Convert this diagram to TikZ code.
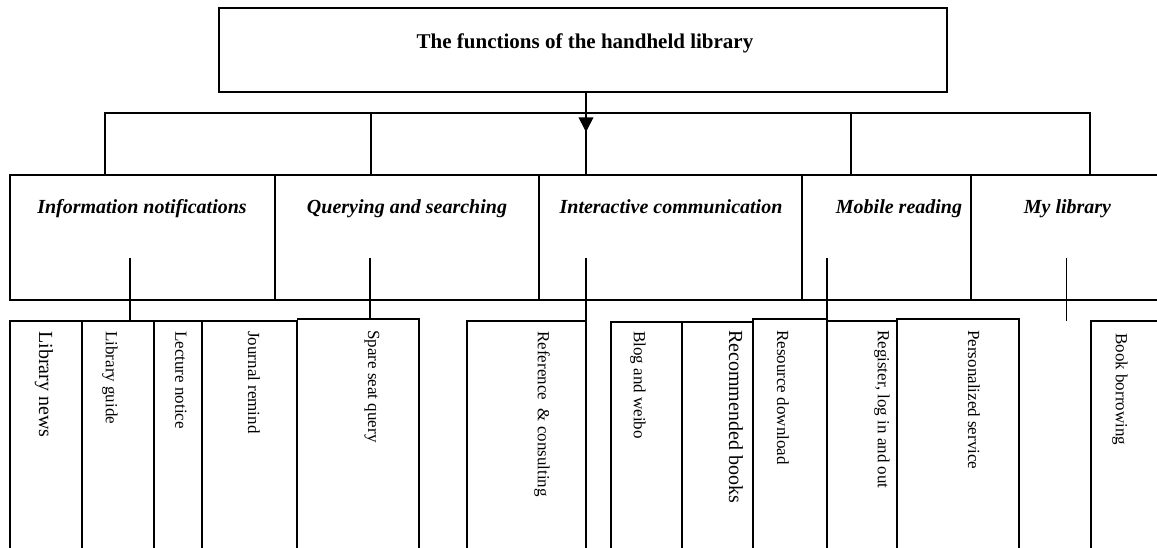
\documentclass[tikz,border=0pt]{standalone}
\usepackage{fontspec}
\setmainfont{Liberation Serif}
\usetikzlibrary{fit,arrows.meta}
\begin{document}
\begin{tikzpicture}[x=0.75pt,y=-0.75pt,
  box/.style={draw, line width=1.3pt, inner sep=0pt},
  conn/.style={line width=1.3pt},
  head/.style={font=\fontsize{15.75}{18}\selectfont\bfseries, inner sep=0pt, anchor=base},
  cat/.style={font=\fontsize{15}{18}\selectfont\bfseries\itshape, inner sep=0pt, anchor=base},
  leaf/.style={font=\fontsize{12.75}{15}\selectfont, inner sep=0pt, rotate=-90, anchor=west},
  bigleaf/.style={leaf, font=\fontsize{15}{18}\selectfont}]
\useasboundingbox (0,0) rectangle (1157,548);
\fill[white] (0,0) rectangle (1157,548);
\clip (0,0) rectangle (1157,548);

% top
\node[box, fit={(219,8)(947,92)}] (top) {};
\node[head] (top-t) at (585,48.5) {The functions of the handheld library};

% level 2
\node[box, fit={(10,175)(275,300)}] (info) {};
\node[box, fit={(275,175)(539,300)}] (query) {};
\node[box, fit={(539,175)(802,300)}] (inter) {};
\node[box, fit={(802,175)(971,300)}] (mobile) {};
\node[box, fit={(971,175)(1175,300)}] (mylib) {};
\node[cat] (info-t) at (142,214) {Information notifications};
\node[cat] (query-t) at (407,214) {Querying and searching};
\node[cat] (inter-t) at (671,214) {Interactive communication};
\node[cat] (mobile-t) at (899,214) {Mobile reading};
\node[cat] (mylib-t) at (1067.5,214) {My library};

% level 3
\node[box, fit={(10,321)(82,575)}] (ln) {};
\node[box, fit={(82,321)(154,575)}] (lg) {};
\node[box, fit={(154,321)(202,575)}] (lec) {};
\node[box, fit={(202,321)(297,575)}] (jr) {};
\node[box, fit={(297.5,319)(419,575)}] (ssq) {};
\node[box, fit={(467,321)(586,575)}] (rc) {};
\node[box, fit={(611,322)(682,575)}] (bw) {};
\node[box, fit={(682,322)(753,575)}] (rb) {};
\node[box, fit={(753,319)(827,575)}] (rd) {};
\node[box, fit={(827,321)(897,575)}] (reg) {};
\node[box, fit={(897,319)(1019,575)}] (ps) {};
\node[box, fit={(1091,321)(1180,575)}] (bb) {};

\node[bigleaf] (ln-t) at (44,331) {Library news};
\node[leaf] (lg-t) at (110,331) {Library guide};
\node[leaf] (lec-t) at (181,331) {Lecture notice};
\node[leaf] (jr-t) at (254,331) {Journal remind};
\node[leaf] (ssq-t) at (372,330) {Spare seat query};
\node[leaf] (rc-t) at (542,331) {Reference \ \& consulting};
\node[leaf] (bw-t) at (638,331) {Blog and weibo};
\node[bigleaf] (rb-t) at (736,330) {Recommended books};
\node[leaf] (rd-t) at (783,330) {Resource download};
\node[leaf] (reg-t) at (882,330) {Register, log in and out};
\node[leaf] (ps-t) at (974,330) {Personalized service};
\node[leaf] (bb-t) at (1120,333) {Book borrowing};

% bus from the top box
\coordinate (b1) at (105,113);
\coordinate (b2) at (371,113);
\coordinate (b3) at (586,113);
\coordinate (b4) at (851,113);
\coordinate (b5) at (1090,113);
\coordinate (tip) at (586,132);
\draw[conn] (b1 |- info.north) -- (b1) -- (b5) -- (b5 |- mylib.north);
\draw[conn] (b2) -- (b2 |- query.north);
\draw[conn] (b4) -- (b4 |- mobile.north);
\draw[conn] (b3 |- top.south) -- (b3 |- inter.north);
\draw[conn, -{Triangle[width=11pt,length=11pt]}] (b3 |- top.south) -- (tip);

% drops inside the category boxes
\coordinate (d1) at (130,258);
\coordinate (d2) at (370,258);
\coordinate (d3) at (586,258);
\coordinate (d4) at (827,258);
\coordinate (d5) at (1066.5,258);
\coordinate (e5) at (1066.5,321);
\draw[conn] (d1) -- (d1 |- lg.north);
\draw[conn] (d2) -- (d2 |- ssq.north);
\draw[conn] (d3) -- (d3 |- rc.north);
\draw[conn] (d4) -- (d4 |- reg.north);
\draw[conn] (d5) -- (e5);
\end{tikzpicture}
\end{document}
